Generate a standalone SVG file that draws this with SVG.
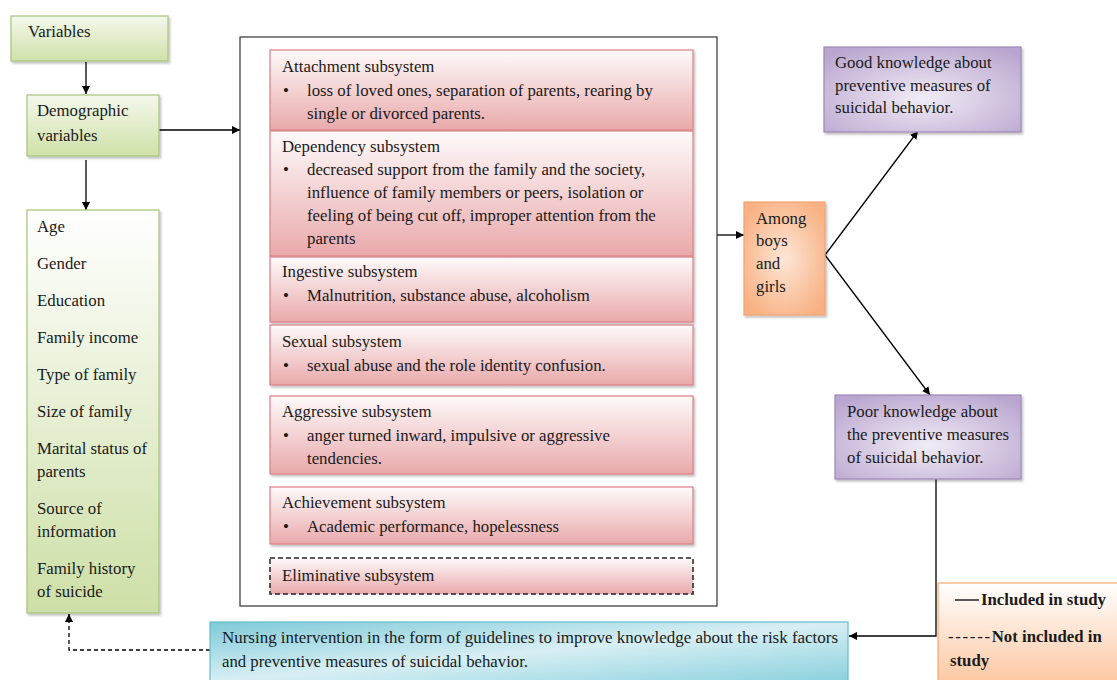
<svg xmlns="http://www.w3.org/2000/svg" width="1117" height="680" viewBox="0 0 1117 680">
<style>
text{font-family:'Liberation Serif','Times New Roman',serif;font-size:16.8px;fill:#1a1a1a}
.b{font-weight:bold}
.g{stroke:#a8c37c;stroke-width:1.2}
.p{stroke:#dc7f85;stroke-width:1.2}
.v{stroke:#9e87b8;stroke-width:1.2}
.c{fill:none;stroke:#000;stroke-width:1.3}
.t{fill:none;stroke:#333;stroke-width:1}
</style>
<defs>
<linearGradient id="gv" x1="0" y1="0" x2="0" y2="1"><stop offset="0" stop-color="#f4f8ec"/><stop offset="1" stop-color="#cfe1a9"/></linearGradient>
<linearGradient id="ga" x1="0" y1="0" x2="0" y2="1"><stop offset="0" stop-color="#ffffff"/><stop offset="1" stop-color="#cddfa6"/></linearGradient>
<linearGradient id="gp" x1="0" y1="0" x2="0" y2="1"><stop offset="0" stop-color="#fefafa"/><stop offset="1" stop-color="#e9a9ab"/></linearGradient>
<radialGradient id="go" cx="0.5" cy="0.5" r="0.6"><stop offset="0" stop-color="#fde6d6"/><stop offset="1" stop-color="#f8b183"/></radialGradient>
<radialGradient id="gu" cx="0.5" cy="0.6" r="0.7"><stop offset="0" stop-color="#f1ecf6"/><stop offset="1" stop-color="#b9a5cf"/></radialGradient>
<linearGradient id="gn" x1="0" y1="0" x2="1" y2="1"><stop offset="0" stop-color="#7fcad8"/><stop offset="0.5" stop-color="#d7eff4"/><stop offset="1" stop-color="#8ad0dd"/></linearGradient>
<linearGradient id="gl" x1="0" y1="0" x2="0" y2="1"><stop offset="0" stop-color="#ffffff"/><stop offset="1" stop-color="#fcc7a2"/></linearGradient>
<filter id="sh" x="-5%" y="-5%" width="115%" height="115%"><feDropShadow dx="1.5" dy="2" stdDeviation="1" flood-color="#000" flood-opacity="0.25"/></filter>
<marker id="ar" viewBox="0 0 10 10" refX="10" refY="5" markerWidth="8" markerHeight="8" markerUnits="userSpaceOnUse" orient="auto"><path d="M0,0 L10,5 L0,10 z" fill="#000"/></marker>
</defs>

<g id="connectors">
<line class="c" x1="86" y1="62" x2="86" y2="94" marker-end="url(#ar)"/>
<line class="c" x1="86" y1="160" x2="86" y2="210" marker-end="url(#ar)"/>
<line class="c" x1="159" y1="130" x2="240" y2="130" marker-end="url(#ar)"/>
<line class="c" x1="717" y1="235" x2="744" y2="235" marker-end="url(#ar)"/>
<line class="c" x1="825" y1="255" x2="918" y2="131" marker-end="url(#ar)"/>
<line class="c" x1="825" y1="255" x2="930" y2="395" marker-end="url(#ar)"/>
<path class="c" d="M936,479 V636 H849" marker-end="url(#ar)"/>
<path class="c" d="M210,650 H69 V614" stroke-dasharray="4,3" marker-end="url(#ar)"/>
<path class="t" d="M240,99 H270 M240,178 H270 M240,281 H270 M240,360 H270 M240,443 H270 M240,518 H270 M240,576 H270"/>
<path class="t" d="M693,92 H717 M693,185 H717 M693,277 H717 M693,355 H717 M693,430 H717 M693,506 H717 M693,574 H717"/>
</g>

<g id="variables">
<rect x="11" y="16" width="157" height="45" fill="url(#gv)" class="g" filter="url(#sh)"/>
<text x="28" y="37">Variables</text>
</g>

<g id="demographic">
<rect x="27" y="95" width="132" height="61" fill="url(#gv)" class="g" filter="url(#sh)"/>
<text x="37" y="116">Demographic</text>
<text x="37" y="141">variables</text>
</g>

<g id="demographic-list">
<rect x="27" y="210" width="132" height="403" fill="url(#ga)" class="g" filter="url(#sh)"/>
<text x="37" y="232">Age</text>
<text x="37" y="269">Gender</text>
<text x="37" y="306">Education</text>
<text x="37" y="343">Family income</text>
<text x="37" y="380">Type of family</text>
<text x="37" y="417">Size of family</text>
<text x="37" y="454">Marital status of</text>
<text x="37" y="477">parents</text>
<text x="37" y="514">Source of</text>
<text x="37" y="537">information</text>
<text x="37" y="574">Family history</text>
<text x="37" y="597">of suicide</text>
</g>

<g id="subsystems-frame">
<rect x="240" y="37" width="477" height="569" fill="#fff" stroke="#333" stroke-width="1.2"/>
</g>

<g id="attachment">
<rect x="270" y="50" width="423" height="80" fill="url(#gp)" class="p" filter="url(#sh)"/>
<text x="282" y="72">Attachment subsystem</text>
<text x="283" y="96">•</text><text x="307" y="96">loss of loved ones, separation of parents, rearing by</text>
<text x="307" y="119">single or divorced parents.</text>
</g>

<g id="dependency">
<rect x="270" y="131" width="423" height="125" fill="url(#gp)" class="p" filter="url(#sh)"/>
<text x="282" y="152">Dependency subsystem</text>
<text x="283" y="175">•</text><text x="307" y="175">decreased support from the family and the society,</text>
<text x="307" y="198">influence of  family members or peers, isolation or</text>
<text x="307" y="221">feeling of being cut off, improper attention from the</text>
<text x="307" y="244">parents</text>
</g>

<g id="ingestive">
<rect x="270" y="257" width="423" height="65" fill="url(#gp)" class="p" filter="url(#sh)"/>
<text x="282" y="277">Ingestive subsystem</text>
<text x="283" y="301">•</text><text x="307" y="301">Malnutrition, substance abuse, alcoholism</text>
</g>

<g id="sexual">
<rect x="270" y="325" width="423" height="60" fill="url(#gp)" class="p" filter="url(#sh)"/>
<text x="282" y="347">Sexual subsystem</text>
<text x="283" y="371">•</text><text x="307" y="371">sexual abuse and the role identity confusion.</text>
</g>

<g id="aggressive">
<rect x="270" y="396" width="423" height="78" fill="url(#gp)" class="p" filter="url(#sh)"/>
<text x="282" y="417">Aggressive subsystem</text>
<text x="283" y="441">•</text><text x="307" y="441">anger turned inward, impulsive or aggressive</text>
<text x="307" y="464">tendencies.</text>
</g>

<g id="achievement">
<rect x="270" y="487" width="423" height="57" fill="url(#gp)" class="p" filter="url(#sh)"/>
<text x="282" y="508">Achievement subsystem</text>
<text x="283" y="532">•</text><text x="307" y="532">Academic performance, hopelessness</text>
</g>

<g id="eliminative">
<rect x="270" y="558" width="423" height="36" fill="url(#gp)" stroke="#222" stroke-width="1.5" stroke-dasharray="5,3"/>
<text x="282" y="581">Eliminative subsystem</text>
</g>

<g id="among">
<rect x="744" y="202" width="81" height="113" fill="url(#go)" stroke="#f4a46e" stroke-width="1.2" filter="url(#sh)"/>
<text x="756" y="224">Among</text>
<text x="756" y="246">boys</text>
<text x="756" y="269">and</text>
<text x="756" y="292">girls</text>
</g>

<g id="good-knowledge">
<rect x="824" y="47" width="197" height="85" fill="url(#gu)" class="v" filter="url(#sh)"/>
<text x="835" y="68">Good knowledge about</text>
<text x="835" y="91">preventive measures of</text>
<text x="835" y="113">suicidal behavior.</text>
</g>

<g id="poor-knowledge">
<rect x="835" y="395" width="186" height="84" fill="url(#gu)" class="v" filter="url(#sh)"/>
<text x="847" y="417">Poor knowledge about</text>
<text x="847" y="440">the preventive measures</text>
<text x="847" y="463">of suicidal behavior.</text>
</g>

<g id="nursing">
<rect x="210" y="622" width="638" height="60" fill="url(#gn)" stroke="#66bccd" stroke-width="1.2"/>
<text x="222" y="643" textLength="616" lengthAdjust="spacingAndGlyphs">Nursing intervention in the form of guidelines to improve knowledge about the risk factors</text>
<text x="222" y="667" textLength="306" lengthAdjust="spacingAndGlyphs">and preventive measures of suicidal behavior.</text>
</g>

<g id="legend">
<rect x="938" y="583" width="182" height="100" fill="url(#gl)" stroke="#f5a86e" stroke-width="1.2"/>
<line x1="955" y1="600" x2="979" y2="600" stroke="#000" stroke-width="1.3"/>
<text class="b" x="981" y="605">Included in study</text>
<text class="b" x="948" y="642"><tspan style="letter-spacing:1.7px;font-weight:normal">------</tspan>Not included in</text>
<text class="b" x="950" y="666">study</text>
</g>
</svg>
